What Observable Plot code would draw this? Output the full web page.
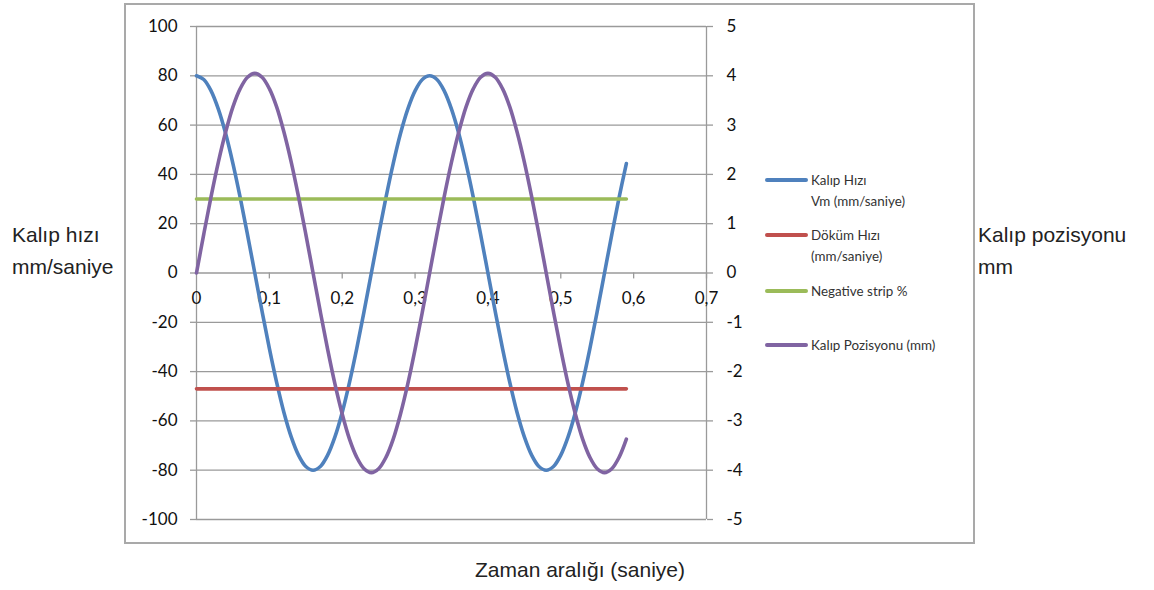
<!DOCTYPE html>
<html><head><meta charset="utf-8">
<script src="https://cdn.jsdelivr.net/npm/d3@7"></script>
<script src="https://cdn.jsdelivr.net/npm/@observablehq/plot@0.6"></script>
<style>
body{margin:0;background:#fff;}
#wrap{position:relative;width:1154px;height:590px;overflow:hidden;font-family:"Liberation Sans",Arial,sans-serif;}
#chart{position:absolute;left:0;top:0;}
#box{position:absolute;left:124px;top:3px;width:851px;height:541px;border:2px solid #a9a9a9;box-sizing:border-box;pointer-events:none;}
.title{position:absolute;font-size:21px;line-height:32px;color:#222;white-space:nowrap;}
.leg{position:absolute;left:811px;font-family:Lato,sans-serif;font-size:13.4px;line-height:21px;color:#333;white-space:nowrap;}
.sw{position:absolute;left:765px;width:43px;height:3.5px;border-radius:2px;}
</style></head>
<body><div id="wrap"><div id="chart"></div><div id="box"></div></div>
<script>
// Time (s)
const time = [0,0.01,0.02,0.03,0.04,0.05,0.06,0.07,0.08,0.09,0.10,0.11,0.12,0.13,0.14,0.15,0.16,0.17,0.18,0.19,
  0.20,0.21,0.22,0.23,0.24,0.25,0.26,0.27,0.28,0.29,0.30,0.31,0.32,0.33,0.34,0.35,0.36,0.37,0.38,0.39,
  0.40,0.41,0.42,0.43,0.44,0.45,0.46,0.47,0.48,0.49,0.50,0.51,0.52,0.53,0.54,0.55,0.56,0.57,0.58,0.59];
// Kalıp Hızı Vm (mm/saniye) — left axis
const moldSpeed = [80,78.5,73.9,66.5,56.6,44.4,30.6,15.6,0,-15.6,-30.6,-44.4,-56.6,-66.5,-73.9,-78.5,-80,
  -78.5,-73.9,-66.5,-56.6,-44.4,-30.6,-15.6,0,15.6,30.6,44.4,56.6,66.5,73.9,78.5,80,
  78.5,73.9,66.5,56.6,44.4,30.6,15.6,0,-15.6,-30.6,-44.4,-56.6,-66.5,-73.9,-78.5,-80,
  -78.5,-73.9,-66.5,-56.6,-44.4,-30.6,-15.6,0,15.6,30.6,44.4];
// Kalıp Pozisyonu (mm) — right axis
const moldPosition = [0,0.79,1.55,2.25,2.86,3.37,3.74,3.97,4.05,3.97,3.74,3.37,2.86,2.25,1.55,0.79,0,
  -0.79,-1.55,-2.25,-2.86,-3.37,-3.74,-3.97,-4.05,-3.97,-3.74,-3.37,-2.86,-2.25,-1.55,-0.79,0,
  0.79,1.55,2.25,2.86,3.37,3.74,3.97,4.05,3.97,3.74,3.37,2.86,2.25,1.55,0.79,0,
  -0.79,-1.55,-2.25,-2.86,-3.37,-3.74,-3.97,-4.05,-3.97,-3.74,-3.37];
// Döküm Hızı (mm/saniye) and Negative strip %
const castingSpeed = -47;
const negativeStrip = 30;
const castStart = 0, castEnd = 0.59;

const xTicks = [0,0.1,0.2,0.3,0.4,0.5,0.6,0.7];
const leftTicks = [-100,-80,-60,-40,-20,0,20,40,60,80,100];
const rightTicks = [-5,-4,-3,-2,-1,0,1,2,3,4,5];
const rightScale = 20; // right axis (mm) to left axis units

const seriesNames = ["Kalıp Hızı\nVm (mm/saniye)", "Döküm Hızı\n(mm/saniye)", "Negative strip %", "Kalıp Pozisyonu (mm)"];
const seriesColors = ["#4F81BD", "#C0504D", "#9BBB59", "#8064A2"];

const rows = time.map((t, i) => ({t, v: moldSpeed[i], p: moldPosition[i]}));
const flat = [{t: castStart}, {t: castEnd}];

const chart = Plot.plot({
  width: 1154, height: 590,
  marginLeft: 196, marginRight: 448, marginTop: 26, marginBottom: 71,
  x: {domain: [0, 0.7], axis: null},
  y: {domain: [-100, 100], axis: null},
  style: {fontFamily: "Lato, sans-serif", fontSize: "17px", color: "#111", background: "transparent", overflow: "visible"},
  marks: [
    Plot.ruleY(leftTicks, {stroke: "#9a9a9a", strokeWidth: 1.3}),
    Plot.ruleX([0, 0.7], {stroke: "#9a9a9a", strokeWidth: 1.3}),
    Plot.axisY(leftTicks, {anchor: "left", tickSize: 6, tickPadding: 13, tickFormat: d => String(d), stroke: "#9a9a9a", strokeWidth: 1.3, fill: "#111", label: null}),
    Plot.axisY(rightTicks.map(v => v * rightScale), {anchor: "right", tickSize: 6, tickPadding: 14, tickFormat: d => String(d / rightScale), textAnchor: "start", stroke: "#9a9a9a", strokeWidth: 1.3, fill: "#111", label: null}),
    Plot.ruleX(xTicks.slice(1), {x: d => d, y1: 0, y2: -2.4, stroke: "#9a9a9a", strokeWidth: 1.3}),
    Plot.text(xTicks, {x: d => d, y: 0, dy: 26, text: d => String(d).replace(".", ","), fill: "#111"}),
    Plot.line(rows, {x: "t", y: "v", stroke: seriesColors[0], strokeWidth: 3.6, curve: "catmull-rom", strokeLinecap: "round"}),
    Plot.line(flat, {x: "t", y: () => castingSpeed, stroke: seriesColors[1], strokeWidth: 3.6}),
    Plot.line(flat, {x: "t", y: () => negativeStrip, stroke: seriesColors[2], strokeWidth: 3.6}),
    Plot.line(rows, {x: "t", y: d => d.p * rightScale, stroke: seriesColors[3], strokeWidth: 3.6, curve: "catmull-rom", strokeLinecap: "round"})
  ]
});
document.getElementById("chart").appendChild(chart);

const wrap = document.getElementById("wrap");
function addTitle(text, left, top, extra) {
  const d = document.createElement("div");
  d.className = "title";
  d.style.left = left + "px"; d.style.top = top + "px";
  if (extra) Object.assign(d.style, extra);
  d.innerHTML = text.split("\n").join("<br>");
  wrap.appendChild(d);
}
addTitle("Kalıp hızı\nmm/saniye", 12, 219);
addTitle("Kalıp pozisyonu\nmm", 978, 219);
addTitle("Zaman aralığı (saniye)", 380, 554, {width: "400px", textAlign: "center"});

const legY = [180, 235, 291, 345];
seriesNames.forEach((name, i) => {
  const sw = document.createElement("div");
  sw.className = "sw";
  sw.style.background = seriesColors[i];
  sw.style.top = (legY[i] - 1.75) + "px";
  wrap.appendChild(sw);
  const tx = document.createElement("div");
  tx.className = "leg";
  tx.style.top = (legY[i] - 10.5) + "px";
  tx.innerHTML = name.split("\n").join("<br>");
  wrap.appendChild(tx);
});
</script>
</body></html>
